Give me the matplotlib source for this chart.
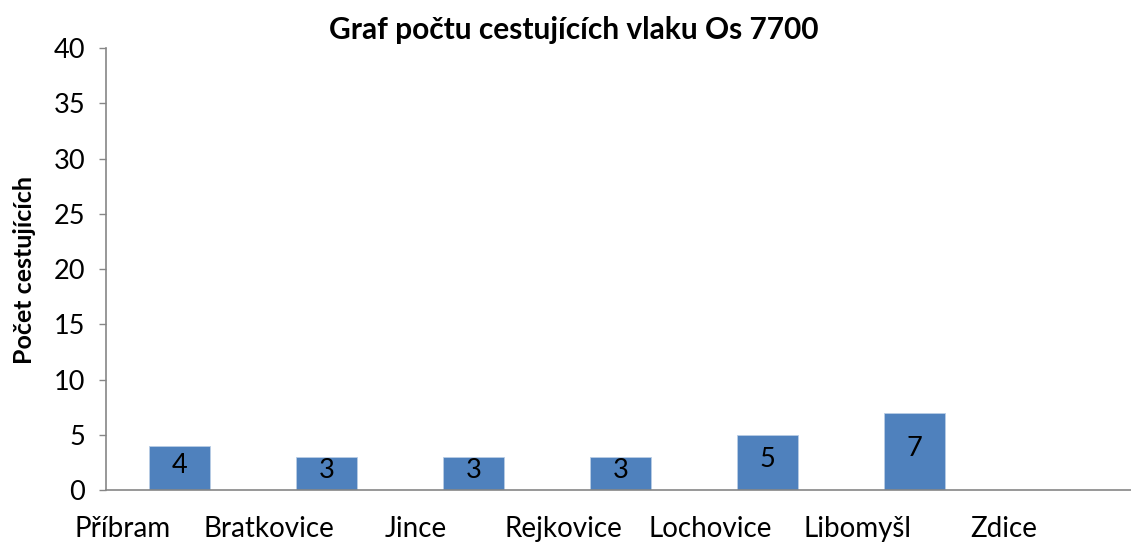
import numpy as np
import matplotlib
matplotlib.use("Agg")
import matplotlib.pyplot as plt

plt.rcParams['font.family'] = ['Lato', 'DejaVu Sans']

##### data
stations = ["Příbram", "Bratkovice", "Jince", "Rejkovice", "Lochovice", "Libomyšl", "Zdice"]
passengers = [4, 3, 3, 3, 5, 7, None]
y_ticks = [0, 5, 10, 15, 20, 25, 30, 35, 40]

title = "Graf počtu cestujících vlaku Os 7700"
y_label = "Počet cestujících"

bar_color = "#4F81BD"
axis_color = "#868686"

fig = plt.figure(figsize=(11.31, 5.45), dpi=100)
ax = fig.add_axes([0.0937, 0.1009, 0.9098, 0.811])

x = np.arange(len(stations))
vals = np.array([np.nan if v is None else v for v in passengers], dtype=float)
bars = ax.bar(x, np.nan_to_num(vals), width=0.41, color=bar_color,
              edgecolor="#B9CDE5", linewidth=0.6)

##### data labels, centred in the bars
for xi, v in zip(x, vals):
    if np.isnan(v):
        continue
    ax.annotate("%d" % v, (xi, v / 2.0), xytext=(0, 2), textcoords="offset points",
                ha="center", va="center", fontsize=19.5, color="black")

ax.set_xlim(-0.5, len(stations) - 0.5)
ax.set_ylim(0, 40)
ax.set_yticks(y_ticks)
ax.tick_params(axis="y", length=5, width=1, color=axis_color, labelsize=19.5, pad=10)

##### category labels sit left of the bars, as in the original
ax.set_xticks(x - 0.39)
ax.set_xticklabels(stations, fontsize=20)
ax.tick_params(axis="x", length=0, pad=19)

for s in ["top", "right"]:
    ax.spines[s].set_visible(False)
for s in ["left", "bottom"]:
    ax.spines[s].set_color(axis_color)
    ax.spines[s].set_linewidth(1.2)

fig.text(0.507, 0.945, title, ha="center", va="center", fontsize=21.5, fontweight="bold")
fig.text(0.022, 0.505, y_label, ha="center", va="center", rotation=90,
         fontsize=18, fontweight="bold")

plt.savefig("out.png", dpi=100)
